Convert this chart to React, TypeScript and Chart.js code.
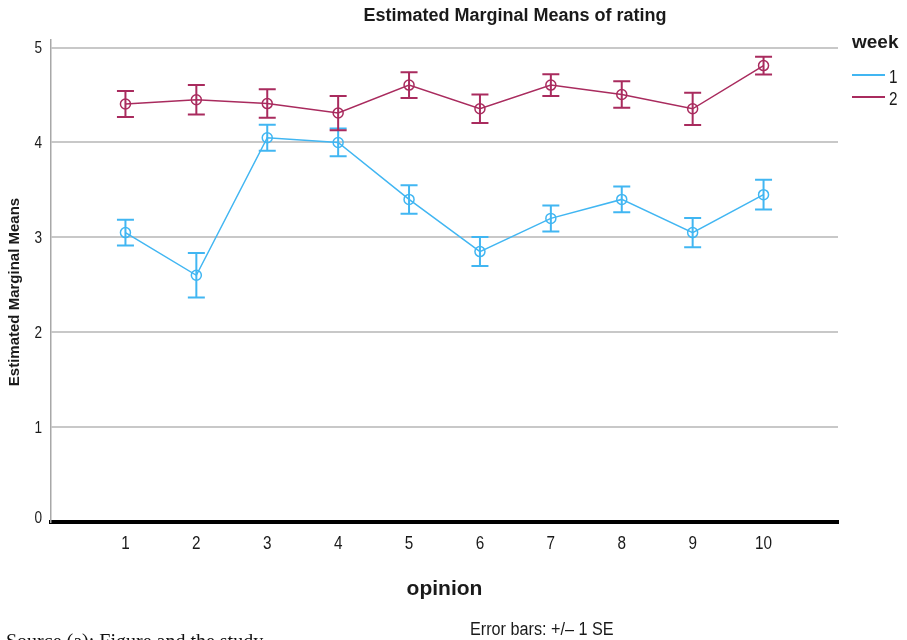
import React, { useEffect, useRef } from "react";
import { Chart, registerables } from "chart.js";

Chart.register(...registerables);

// ---- data ----
const opinionLevels = [1, 2, 3, 4, 5, 6, 7, 8, 9, 10];
const week1Means = [3.05, 2.6, 4.05, 4.0, 3.4, 2.85, 3.2, 3.4, 3.05, 3.45];
const week1SE = [0.135, 0.235, 0.137, 0.146, 0.15, 0.153, 0.137, 0.135, 0.155, 0.156];
const week2Means = [4.405, 4.45, 4.41, 4.31, 4.605, 4.355, 4.605, 4.505, 4.355, 4.81];
const week2SE = [0.137, 0.155, 0.15, 0.18, 0.135, 0.15, 0.115, 0.14, 0.17, 0.093];
const yTickValues = [0, 1, 2, 3, 4, 5];
const seriesLabels = ["1", "2"];
const seriesColors = ["#41b6f2", "#a92b5e"];
const chartTitle = "Estimated Marginal Means of rating";
const yAxisTitle = "Estimated Marginal Means";
const xAxisTitle = "opinion";
const legendTitle = "week";
const footnote = "Error bars: +/\u2013 1 SE";
const sourceNote = "Source (a): Figure and the study";

const FONT = '"Liberation Sans", Arial, sans-serif';

const meansList = [week1Means, week2Means];
const seList = [week1SE, week2SE];

function condensedText(ctx: any, text: string, x: number, y: number, sx: number) {
  ctx.save();
  ctx.translate(x, y);
  ctx.scale(sx, 1);
  ctx.fillText(text, 0, 0);
  ctx.restore();
}

const decorPlugin = {
  id: "decor",
  afterDatasetsDraw(chart: any) {
    const { ctx, scales } = chart;
    const xs = scales.x;
    const ys = scales.y;
    ctx.save();
    meansList.forEach((means, si) => {
      ctx.strokeStyle = seriesColors[si];
      ctx.lineWidth = 2;
      means.forEach((m, i) => {
        const x = xs.getPixelForValue(opinionLevels[i]);
        const yTop = ys.getPixelForValue(m + seList[si][i]);
        const yBot = ys.getPixelForValue(m - seList[si][i]);
        ctx.beginPath();
        ctx.moveTo(x, yTop);
        ctx.lineTo(x, yBot);
        ctx.moveTo(x - 8.5, yTop);
        ctx.lineTo(x + 8.5, yTop);
        ctx.moveTo(x - 8.5, yBot);
        ctx.lineTo(x + 8.5, yBot);
        ctx.stroke();
      });
    });
    ctx.restore();
  },
  afterDraw(chart: any) {
    const { ctx, scales, chartArea } = chart;
    const xs = scales.x;
    const ys = scales.y;
    ctx.save();
    ctx.fillStyle = "#1a1a1a";
    // y tick labels
    ctx.font = "16px " + FONT;
    ctx.textAlign = "right";
    ctx.textBaseline = "middle";
    yTickValues.forEach((v) => {
      const y = ys.getPixelForValue(v);
      condensedText(ctx, String(v), 42, v === 0 ? y - 3 : y + 1, 0.85);
    });
    // x tick labels
    ctx.font = "18px " + FONT;
    ctx.textAlign = "center";
    opinionLevels.forEach((v) => {
      condensedText(ctx, String(v), xs.getPixelForValue(v), 544, 0.85);
    });
    // title
    ctx.font = "bold 18px " + FONT;
    ctx.fillText(chartTitle, 515, 16);
    // x title
    ctx.font = "bold 21px " + FONT;
    ctx.fillText(xAxisTitle, (chartArea.left + chartArea.right) / 2, 589);
    // y title
    ctx.save();
    ctx.translate(15, 292);
    ctx.rotate(-Math.PI / 2);
    ctx.font = "bold 15px " + FONT;
    ctx.fillText(yAxisTitle, 0, 0);
    ctx.restore();
    // footnote
    ctx.font = "18px " + FONT;
    ctx.textAlign = "left";
    condensedText(ctx, footnote, 470, 630, 0.9);
    // legend
    ctx.font = "bold 19px " + FONT;
    ctx.fillText(legendTitle, 852, 43);
    ctx.font = "18px " + FONT;
    seriesLabels.forEach((lab, i) => {
      const y = 75 + i * 22;
      ctx.strokeStyle = seriesColors[i];
      ctx.lineWidth = 2;
      ctx.beginPath();
      ctx.moveTo(852, y);
      ctx.lineTo(885, y);
      ctx.stroke();
      condensedText(ctx, lab, 889, y + 3, 0.85);
    });
    // source note (cropped at the bottom)
    ctx.font = '20px "Liberation Serif", "Times New Roman", serif';
    ctx.textBaseline = "alphabetic";
    ctx.fillStyle = "#111";
    ctx.fillText(sourceNote, 6, 648);
    ctx.restore();
  },
};

export default function App() {
  const canvasRef = useRef<HTMLCanvasElement | null>(null);

  useEffect(() => {
    const canvas = canvasRef.current;
    if (!canvas) return;
    const chart = new Chart(canvas, {
      type: "line",
      data: {
        datasets: meansList.map((means, si) => ({
          label: seriesLabels[si],
          data: means.map((m, i) => ({ x: opinionLevels[i], y: m })),
          borderColor: seriesColors[si],
          backgroundColor: "rgba(0,0,0,0)",
          borderWidth: 1.5,
          pointRadius: 5,
          pointBorderWidth: 1.5,
          pointBackgroundColor: "rgba(0,0,0,0)",
          pointBorderColor: seriesColors[si],
          tension: 0,
          order: 1 - si,
        })),
      },
      options: {
        animation: false,
        responsive: false,
        devicePixelRatio: 1,
        layout: { padding: { left: 51, right: 69, top: 40, bottom: 118 } },
        plugins: {
          legend: { display: false },
          title: { display: false },
          tooltip: { enabled: false },
        },
        scales: {
          x: {
            type: "linear",
            min: -0.05,
            max: 11.05,
            afterBuildTicks: (scale: any) => {
              scale.ticks = opinionLevels.map((v) => ({ value: v }));
            },
            ticks: { display: false },
            grid: { display: false, drawTicks: false },
            border: { display: true, color: "#000", width: 4 },
          },
          y: {
            type: "linear",
            min: 0,
            max: 5.08,
            afterBuildTicks: (scale: any) => {
              scale.ticks = yTickValues.map((v) => ({ value: v }));
            },
            ticks: { display: false },
            grid: {
              display: true,
              drawTicks: false,
              color: (ctx: any) => (ctx.tick && ctx.tick.value === 0 ? "rgba(0,0,0,0)" : "#c8c8c8"),
              lineWidth: 2,
            },
            border: { display: true, color: "#a8a8a8", width: 1.5 },
          },
        },
      },
      plugins: [decorPlugin],
    });
    return () => chart.destroy();
  }, []);

  return (
    <div style={{ position: "fixed", left: 0, top: 0, width: 907, height: 640, overflow: "hidden", background: "#fff" }}>
      <canvas ref={canvasRef} width={907} height={640} style={{ display: "block", width: 907, height: 640 }} />
    </div>
  );
}
